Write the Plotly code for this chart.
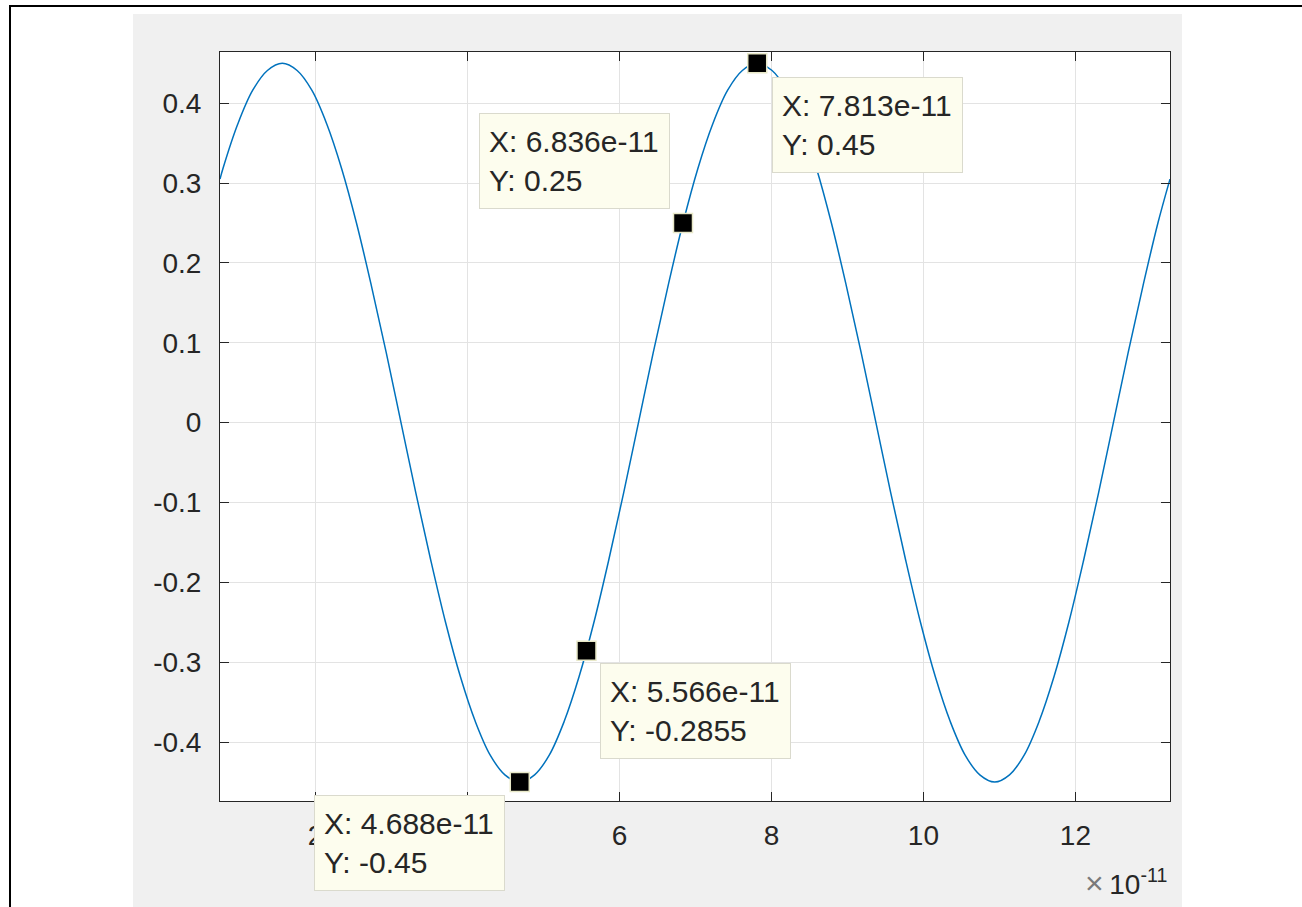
import plotly.graph_objects as go

# ---------------- data (x in units of 1e-11 s) ----------------
t_e11 = [0.743,
         0.781, 0.977, 1.172, 1.367, 1.563, 1.758, 1.953, 2.148, 2.344, 2.539,
         2.734, 2.930, 3.125, 3.320, 3.516, 3.711, 3.906, 4.102, 4.297, 4.492,
         4.688, 4.883, 5.078, 5.273, 5.469, 5.664, 5.859, 6.055, 6.250, 6.445,
         6.641, 6.836, 7.031, 7.227, 7.422, 7.617, 7.813, 8.008, 8.203, 8.398,
         8.594, 8.789, 8.984, 9.180, 9.375, 9.570, 9.766, 9.961, 10.156, 10.352,
         10.547, 10.742, 10.938, 11.133, 11.328, 11.523, 11.719, 11.914, 12.109, 12.305,
         12.500, 12.695, 12.891, 13.086,
         13.245]
v = [0.305,
     0.318, 0.374, 0.416, 0.441, 0.450, 0.441, 0.416, 0.374, 0.318, 0.250,
     0.172, 0.088, 0.000, -0.088, -0.172, -0.250, -0.318, -0.374, -0.416, -0.441,
     -0.450, -0.441, -0.416, -0.374, -0.318, -0.250, -0.172, -0.088, 0.000, 0.088,
     0.172, 0.250, 0.318, 0.374, 0.416, 0.441, 0.450, 0.441, 0.416, 0.374,
     0.318, 0.250, 0.172, 0.088, 0.000, -0.088, -0.172, -0.250, -0.318, -0.374,
     -0.416, -0.441, -0.450, -0.441, -0.416, -0.374, -0.318, -0.250, -0.172, -0.088,
     0.000, 0.088, 0.172, 0.250,
     0.305]

tip_x_e11 = [7.813, 6.836, 5.566, 4.688]
tip_y = [0.45, 0.25, -0.2855, -0.45]
tip_x_text = ["7.813e-11", "6.836e-11", "5.566e-11", "4.688e-11"]
tip_y_text = ["0.45", "0.25", "-0.2855", "-0.45"]

xtick_vals_e11 = [2, 4, 6, 8, 10, 12]
xtick_text = ["2", "4", "6", "8", "10", "12"]
ytick_vals = [-0.4, -0.3, -0.2, -0.1, 0, 0.1, 0.2, 0.3, 0.4]
ytick_text = ["-0.4", "-0.3", "-0.2", "-0.1", "0", "0.1", "0.2", "0.3", "0.4"]
x_range_e11 = [0.743, 13.245]
y_range = [-0.4738, 0.4642]
exponent_text = "10<sup>-11</sup>"

SCALE = 1e-11

# ---------------- layout geometry (pixels) ----------------
W, H = 1302, 907
L, R, T, B = 220, 1170, 52, 801   # plot area edges


def px(xp):
    return (xp - L) / (R - L)


def py(yp):
    return (B - yp) / (B - T)


FONT = "Liberation Sans, Arial, Helvetica, sans-serif"
TXT = "#262626"

fig = go.Figure()
fig.add_trace(go.Scatter(
    x=[t * SCALE for t in t_e11], y=v, mode="lines",
    line=dict(color="#0072BD", width=1.5, shape="spline"),
    hoverinfo="skip", showlegend=False,
))
fig.add_trace(go.Scatter(
    x=[t * SCALE for t in tip_x_e11], y=tip_y, mode="markers",
    marker=dict(symbol="square", size=19, color="black",
                line=dict(color="rgb(232,232,200)", width=1.5)),
    cliponaxis=False, hoverinfo="skip", showlegend=False,
))

shapes = [
    # figure grey background
    dict(type="rect", xref="paper", yref="paper", layer="below",
         x0=px(133), x1=px(1182), y0=py(930), y1=py(14),
         fillcolor="#f0f0f0", line=dict(width=0)),
    # white axes background
    dict(type="rect", xref="paper", yref="paper", layer="below",
         x0=0, x1=1, y0=0, y1=1, fillcolor="white", line=dict(width=0)),
    # outer black frame
    dict(type="rect", xref="paper", yref="paper", layer="above",
         x0=px(10), x1=px(1320), y0=py(930), y1=py(6),
         fillcolor="rgba(0,0,0,0)", line=dict(color="black", width=2)),
]

tip_box_px = [(772, 77), (479, 113), (600, 663), (314, 795)]
annotations = []
for (bx, by), xs, ys in zip(tip_box_px, tip_x_text, tip_y_text):
    annotations.append(dict(
        xref="paper", yref="paper", x=px(bx), y=py(by),
        xanchor="left", yanchor="top", showarrow=False,
        text=f"X: {xs}<br>Y: {ys}", align="left", valign="middle",
        width=171, height=76, borderpad=9, borderwidth=1,
        bgcolor="rgb(253,253,238)", bordercolor="rgb(218,218,205)",
        font=dict(family=FONT, size=30, color=TXT),
    ))
annotations.append(dict(
    xref="paper", yref="paper", x=px(1169), y=py(882),
    xanchor="right", yanchor="middle", showarrow=False,
    text=f"<span style='color:#7a7a7a;font-size:32px'>×</span>\u2009{exponent_text}",
    font=dict(family=FONT, size=28, color=TXT),
))

axis_common = dict(
    showline=True, linecolor=TXT, linewidth=1, mirror="ticks",
    ticks="inside", ticklen=9, tickwidth=1, tickcolor=TXT,
    showgrid=True, gridcolor="#e3e3e3", gridwidth=1, zeroline=False,
    tickfont=dict(family=FONT, size=28, color=TXT),
)

fig.update_layout(
    width=W, height=H,
    margin=dict(l=L, r=W - R, t=T, b=H - B, pad=0),
    paper_bgcolor="white", plot_bgcolor="white",
    shapes=shapes, annotations=annotations,
    xaxis=dict(range=[x * SCALE for x in x_range_e11],
               tickvals=[x * SCALE for x in xtick_vals_e11], ticktext=xtick_text,
               ticklabelstandoff=9, **axis_common),
    yaxis=dict(range=y_range, tickvals=ytick_vals, ticktext=ytick_text,
               ticklabelstandoff=12, **axis_common),
)

fig.write_html("out.html", config={"displayModeBar": False},
               post_script="document.body.style.margin='0';document.body.style.overflow='hidden';")
